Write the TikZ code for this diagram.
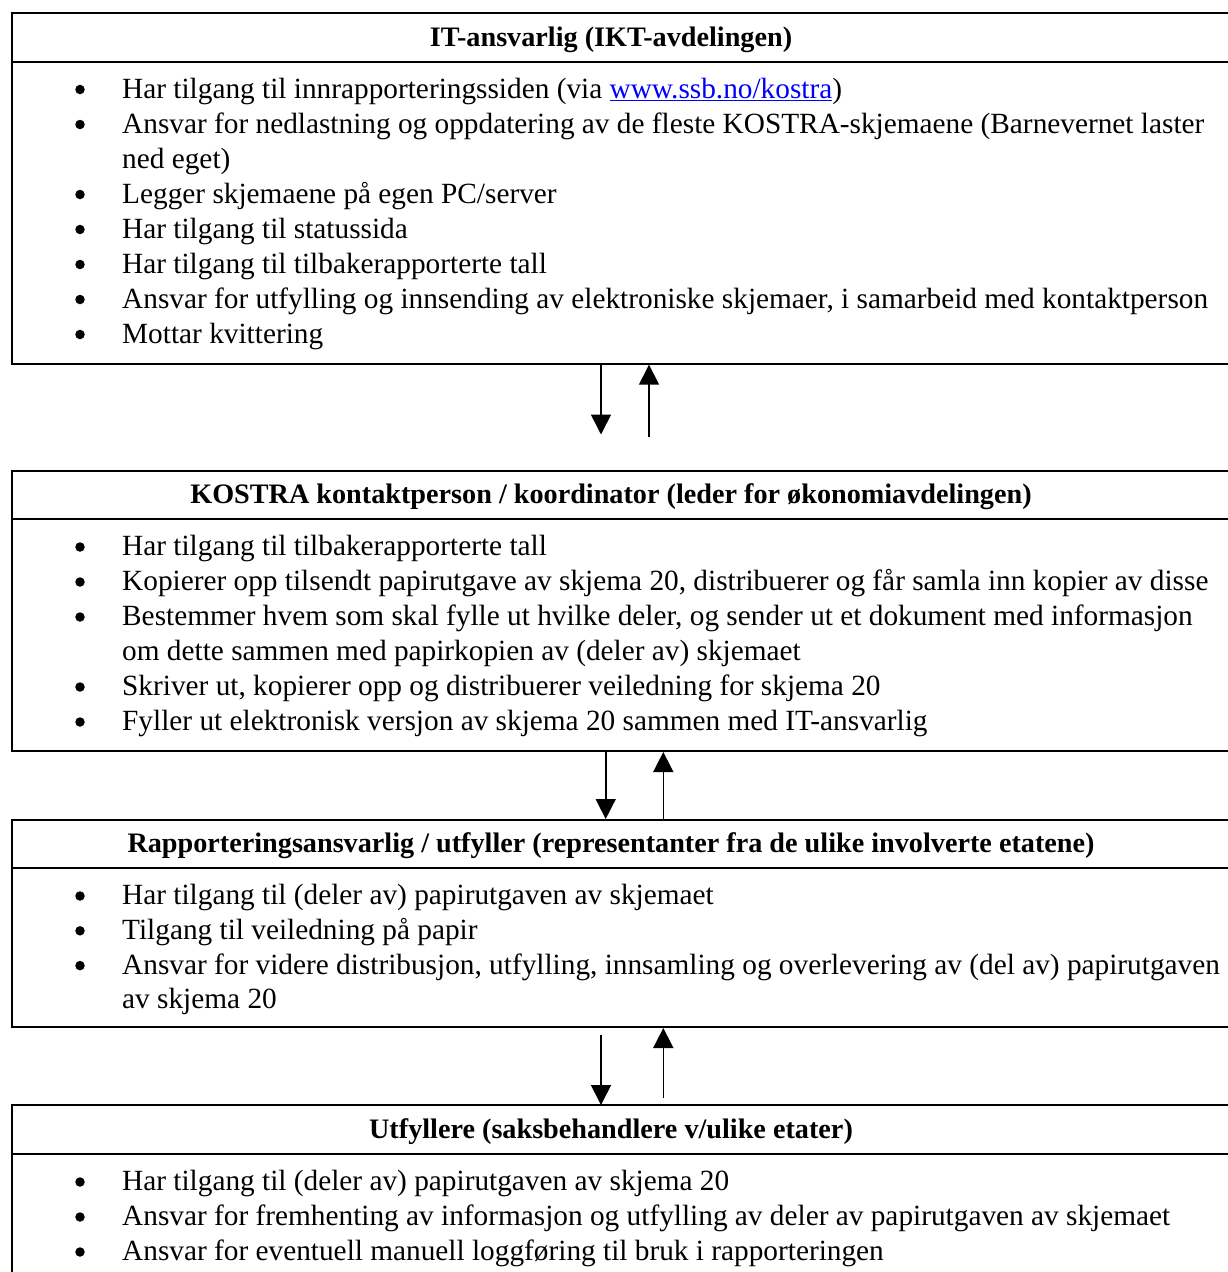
\documentclass[tikz,border=0pt]{standalone}
\usepackage{fontspec}
\setmainfont{Liberation Serif}
\usetikzlibrary{arrows.meta}
\newcommand\itm[3]{%
  \node[bul] (#1-b) at (80,#2-8.5) {};
  \node[txt] (#1) at (122,#2) {#3};}
\newcommand\cont[3]{\node[txt] (#1) at (122,#2) {#3};}
\tikzset{
  box/.style={draw, line width=2pt, rectangle, inner sep=0pt, anchor=north west, minimum width=1260pt},
  rule/.style={line width=2pt},
  bul/.style={circle, fill=black, inner sep=0pt, minimum size=9.5pt},
  txt/.style={anchor=base west, inner sep=0pt, font=\fontsize{29.3pt}{34pt}\selectfont},
  head/.style={anchor=base, inner sep=0pt, font=\fontsize{28.2pt}{33pt}\selectfont\bfseries},
  arr/.style={line width=1.6pt, -{Triangle[width=20pt,length=20pt]}}
}
\begin{document}
\begin{tikzpicture}[x=1pt,y=-1pt]
\useasboundingbox (0,0) rectangle (1228,1272);
\clip (0,0) rectangle (1228,1272);
% boxes
\node[box, minimum height=350.7pt] (b1) at (11,12) {};
\node[box, minimum height=280pt] (b2) at (11,470) {};
\node[box, minimum height=207pt] (b3) at (11,819) {};
\node[box, minimum height=250pt] (b4) at (11,1104) {};
% header dividers
\coordinate (d1) at (11,61.7);
\coordinate (d2) at (11,519);
\coordinate (d3) at (11,868);
\coordinate (d4) at (11,1154);
\draw[rule] (d1) -- (d1 -| b1.east);
\draw[rule] (d2) -- (d2 -| b2.east);
\draw[rule] (d3) -- (d3 -| b3.east);
\draw[rule] (d4) -- (d4 -| b4.east);
% headers
\node[head] (h1) at (611,46) {IT-ansvarlig (IKT-avdelingen)};
\node[head] (h2) at (611,503.5) {KOSTRA kontaktperson / koordinator (leder for økonomiavdelingen)};
\node[head] (h3) at (611,852.5) {Rapporteringsansvarlig / utfyller (representanter fra de ulike involverte etatene)};
\node[head] (h4) at (611,1138) {Utfyllere (saksbehandlere v/ulike etater)};
% box 1 items
\itm{a1}{98}{Har tilgang til innrapporteringssiden (via \textcolor[HTML]{0000FF}{\underline{www.ssb.no/kostra}})}
\itm{a2}{133}{Ansvar for nedlastning og oppdatering av de fleste KOSTRA-skjemaene (Barnevernet laster}
\cont{a2c}{168}{ned eget)}
\itm{a3}{203}{Legger skjemaene på egen PC/server}
\itm{a4}{238}{Har tilgang til statussida}
\itm{a5}{273}{Har tilgang til tilbakerapporterte tall}
\itm{a6}{308}{Ansvar for utfylling og innsending av elektroniske skjemaer, i samarbeid med kontaktperson}
\itm{a7}{343}{Mottar kvittering}
% box 2 items
\itm{k1}{555.5}{Har tilgang til tilbakerapporterte tall}
\itm{k2}{590.5}{Kopierer opp tilsendt papirutgave av skjema 20, distribuerer og får samla inn kopier av disse}
\itm{k3}{625.5}{Bestemmer hvem som skal fylle ut hvilke deler, og sender ut et dokument med informasjon}
\cont{k3c}{660.5}{om dette sammen med papirkopien av (deler av) skjemaet}
\itm{k4}{695.5}{Skriver ut, kopierer opp og distribuerer veiledning for skjema 20}
\itm{k5}{730.5}{Fyller ut elektronisk versjon av skjema 20 sammen med IT-ansvarlig}
% box 3 items
\itm{r1}{904.5}{Har tilgang til (deler av) papirutgaven av skjemaet}
\itm{r2}{939.3}{Tilgang til veiledning på papir}
\itm{r3}{974.1}{Ansvar for videre distribusjon, utfylling, innsamling og overlevering av (del av) papirutgaven}
\cont{r3c}{1008.9}{av skjema 20}
% box 4 items
\itm{u1}{1190.5}{Har tilgang til (deler av) papirutgaven av skjema 20}
\itm{u2}{1225.5}{Ansvar for fremhenting av informasjon og utfylling av deler av papirutgaven av skjemaet}
\itm{u3}{1260.5}{Ansvar for eventuell manuell loggføring til bruk i rapporteringen}
% arrows
\coordinate (p1d) at (601,434.5);
\coordinate (p1u) at (649,437);
\coordinate (p2d) at (605.7,0);
\coordinate (p2u) at (663.3,0);
\coordinate (p3d) at (601,1035);
\coordinate (p3dt) at (601,1105);
\coordinate (p3u) at (663.3,1098);
\draw[arr] (b1.south -| p1d) -- (p1d);
\draw[arr] (p1u) -- (b1.south -| p1u);
\draw[arr] (b2.south -| p2d) -- (b3.north -| p2d);
\draw[arr] (b3.north -| p2u) -- (b2.south -| p2u);
\draw[arr] (p3d) -- (p3dt);
\draw[arr] (p3u) -- (b3.south -| p3u);
\end{tikzpicture}
\end{document}
